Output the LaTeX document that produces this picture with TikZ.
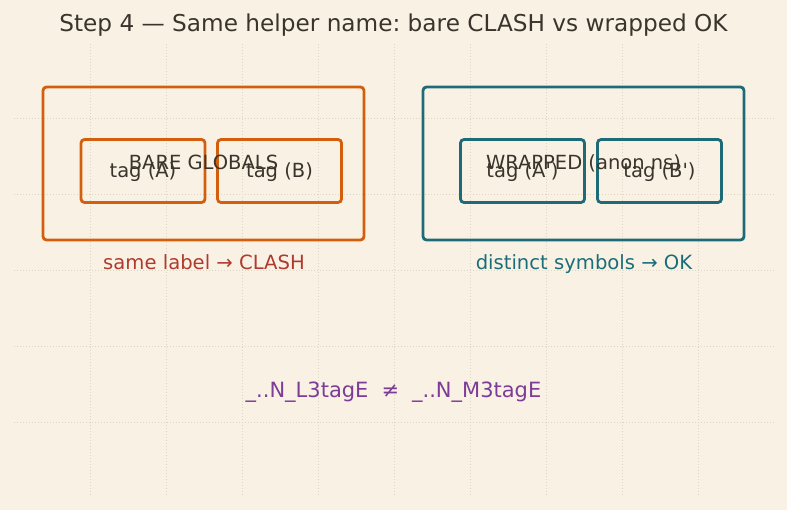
\documentclass[tikz,border=0pt]{standalone}
\usepackage{fontspec}
\setmainfont{DejaVu Sans}
\newfontfamily\plaindv{DejaVu Sans}
\frenchspacing
\definecolor{bg}{HTML}{F9F2E4}
\definecolor{gridc}{HTML}{DCD5C4}
\definecolor{orangec}{HTML}{D35F0E}
\definecolor{tealc}{HTML}{1D6B78}
\definecolor{inkc}{HTML}{3A342D}
\definecolor{redc}{HTML}{B03A2E}
\definecolor{tealt}{HTML}{1A6E7A}
\definecolor{purplec}{HTML}{7D3C98}
\tikzset{
  outerbox/.style={draw, line width=2.8pt, rounded corners=3.5pt, inner sep=0pt},
  innerbox/.style={draw, line width=2.8pt, rounded corners=3.5pt, inner sep=0pt, minimum width=124pt, minimum height=63pt},
  boxtext/.style={text=inkc, font=\plaindv\fontsize{19.5}{22}\selectfont, anchor=base, inner sep=0pt},
  captext/.style={font=\fontsize{19.6}{22}\selectfont, anchor=base, inner sep=0pt},
  gridline/.style={gridc, line width=0.7pt, dash pattern=on 1pt off 2pt}
}
\begin{document}
\begin{tikzpicture}[x=1pt,y=-1pt]
\useasboundingbox (0,0) rectangle (787,510);
\fill[bg] (0,0) rectangle (787,510);
% grid
\foreach \gx in {90,166,...,698} \draw[gridline] (\gx,44) -- (\gx,496);
\foreach \gy in {118,194,...,422} \draw[gridline] (14,\gy) -- (774,\gy);
% title
\node[text=inkc, font=\fontsize{23.2}{27}\selectfont, anchor=base, inner sep=0pt] (title) at (393.5,32) {Step 4 — Same helper name: bare CLASH vs wrapped OK};
% left group
\node[outerbox, draw=orangec, minimum width=321pt, minimum height=153pt] (louter) at (203.5,163.5) {};
\node[innerbox, draw=orangec] (la) at (143,171) {};
\node[innerbox, draw=orangec] (lb) at (279.5,171) {};
\node[boxtext] (ltitle) at (203.5,170) {BARE GLOBALS};
\node[boxtext] (lat) at (143,178) {tag (A)};
\node[boxtext] (lbt) at (279.5,178) {tag (B)};
\node[captext, text=redc] (lcap) at (204,270) {same label → CLASH};
% right group
\node[outerbox, draw=tealc, minimum width=321pt, minimum height=153pt] (router) at (583.5,163.5) {};
\node[innerbox, draw=tealc] (ra) at (522.5,171) {};
\node[innerbox, draw=tealc] (rb) at (659.5,171) {};
\node[boxtext] (rtitle) at (583.5,170) {WRAPPED (anon ns)};
\node[boxtext] (rat) at (522.5,178) {tag (A')};
\node[boxtext] (rbt) at (659.5,178) {tag (B')};
\node[captext, text=tealt] (rcap) at (584,270) {distinct symbols → OK};
% bottom
\node[captext, font=\fontsize{21}{24}\selectfont, text=purplec] (formula) at (393.5,398) {\_..N\_L3tagE\hspace{13pt}≠\hspace{13pt}\_..N\_M3tagE};
\end{tikzpicture}
\end{document}
